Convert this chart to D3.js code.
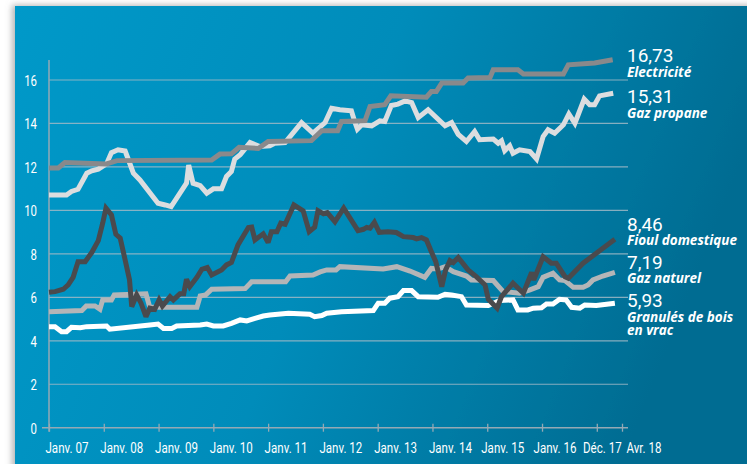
<!DOCTYPE html>
<html><head><meta charset="utf-8">
<script src="https://cdn.jsdelivr.net/npm/d3@7"></script>
<style>html,body{margin:0;padding:0;background:#fff;}svg{display:block;}</style>
</head><body>
<svg id="c" width="747" height="464"></svg>
<script>
// ---------- DATA ----------
const tickLabels = ["Janv. 07","Janv. 08","Janv. 09","Janv. 10","Janv. 11","Janv. 12","Janv. 13","Janv. 14","Janv. 15","Janv. 16","Déc. 17","Avr. 18"];
const tickPos = [0,1,2,3,4,5,6,7,8,9,10,10.46];
const yTicks = [0,2,4,6,8,10,12,14,16];

const seriesNames = ["Granulés de bois en vrac","Gaz naturel","Gaz propane","Electricité","Fioul domestique"];
const seriesLast = ["5,93","7,19","15,31","16,73","8,46"];

const elecT = [0,0.17,0.29,1.05,1.24,2.97,3.12,3.33,3.47,3.82,4.0,4.79,4.98,5.27,5.34,5.77,5.86,6.13,6.24,6.89,6.98,7.07,7.17,7.56,7.65,8.05,8.11,8.56,8.66,9.39,9.48,9.96,10.29];
const elecV = [11.95,11.95,12.2,12.14,12.29,12.32,12.59,12.6,12.9,12.85,13.17,13.21,13.67,13.67,14.09,14.13,14.78,14.86,15.27,15.21,15.47,15.47,15.86,15.86,16.09,16.11,16.47,16.47,16.28,16.28,16.7,16.78,16.93];

const propT = [0,0.32,0.41,0.53,0.69,0.78,0.9,1.05,1.14,1.26,1.39,1.45,1.54,1.66,1.99,2.12,2.23,2.51,2.55,2.63,2.76,2.88,3.0,3.15,3.24,3.33,3.39,3.49,3.55,3.67,3.85,4.03,4.12,4.31,4.61,4.82,5.04,5.16,5.31,5.52,5.58,5.63,5.71,5.89,6.04,6.13,6.25,6.37,6.5,6.62,6.74,6.92,7.23,7.35,7.47,7.62,7.77,7.86,8.11,8.2,8.26,8.32,8.41,8.47,8.59,8.78,8.9,9.02,9.11,9.23,9.39,9.49,9.6,9.66,9.77,9.87,9.96,10.05,10.3];
const propV = [10.71,10.71,10.87,10.97,11.71,11.82,11.9,12.14,12.66,12.79,12.73,12.33,11.71,11.4,10.33,10.25,10.17,11.25,12.09,11.25,11.14,10.79,10.99,10.99,11.56,11.79,12.36,12.56,12.75,13.12,12.94,12.97,13.09,13.12,14.04,13.55,14.04,14.7,14.63,14.58,14.09,13.74,13.94,13.89,14.12,14.09,14.83,14.89,15.04,14.96,14.27,14.63,13.89,14.04,13.5,13.17,13.63,13.25,13.28,13.09,13.2,12.75,12.97,12.63,12.79,12.71,12.37,13.4,13.71,13.55,13.94,14.44,14.01,14.4,15.12,14.86,14.86,15.27,15.39];

const fioulT = [0,0.11,0.26,0.35,0.44,0.53,0.66,0.78,0.9,0.98,1.04,1.14,1.22,1.3,1.39,1.47,1.51,1.6,1.68,1.77,1.84,1.93,2.01,2.07,2.21,2.27,2.39,2.46,2.51,2.57,2.7,2.79,2.89,2.97,3.15,3.24,3.33,3.45,3.64,3.7,3.76,3.91,4.0,4.06,4.16,4.23,4.31,4.47,4.64,4.75,4.85,4.91,5.01,5.08,5.22,5.38,5.64,5.74,5.8,5.86,5.94,6.03,6.19,6.34,6.47,6.65,6.71,6.8,6.89,6.98,7.06,7.17,7.24,7.32,7.38,7.47,7.65,7.8,7.96,8.02,8.18,8.26,8.47,8.66,8.81,8.85,9.02,9.17,9.26,9.42,9.48,9.75,9.99,10.33];
const fioulV = [6.23,6.26,6.37,6.57,6.92,7.64,7.64,8.06,8.61,9.41,10.1,9.79,8.9,8.72,7.72,6.8,5.57,6.11,5.73,5.11,5.5,5.45,5.88,5.6,6.03,5.88,6.16,6.16,6.83,6.49,6.92,7.29,7.37,7.03,7.26,7.49,7.6,8.41,9.21,9.23,8.64,8.92,8.52,9.02,9.02,9.41,9.36,10.25,9.98,9.02,9.23,9.99,9.84,9.9,9.48,10.1,9.07,9.13,9.22,9.18,9.45,8.99,9.02,8.98,8.79,8.75,8.69,8.75,8.64,8.1,7.64,6.49,7.26,7.69,7.6,7.83,7.26,6.95,6.57,5.91,5.5,6.03,6.65,6.19,7.14,6.8,7.87,7.57,7.57,6.95,6.88,7.57,8.03,8.67];

const gazT = [0,0.6,0.68,0.84,0.93,0.98,1.14,1.19,1.77,1.84,2.7,2.76,2.86,2.97,3.58,3.7,4.32,4.4,4.82,4.95,5.07,5.24,5.31,6.1,6.35,6.59,6.86,6.98,7.1,7.23,7.38,7.62,7.71,8.11,8.29,8.59,8.78,8.93,9.02,9.2,9.32,9.42,9.57,9.75,9.84,9.93,10.11,10.33];
const gazV = [5.34,5.39,5.6,5.6,5.45,5.88,5.88,6.11,6.16,5.54,5.54,6.06,6.11,6.37,6.4,6.72,6.72,6.98,7.03,7.17,7.26,7.26,7.41,7.3,7.41,7.21,6.92,7.33,7.3,7.41,7.18,6.98,6.8,6.77,6.26,6.19,6.34,6.49,6.92,7.11,6.8,6.77,6.46,6.46,6.57,6.8,6.98,7.15];

const boisT = [0,0.11,0.23,0.32,0.41,0.57,0.69,1.05,1.11,1.84,1.99,2.09,2.24,2.33,2.76,2.88,3.0,3.18,3.33,3.49,3.61,3.76,3.91,4.03,4.37,4.76,4.85,4.98,5.07,5.34,5.92,6.01,6.13,6.22,6.37,6.47,6.62,6.74,7.1,7.23,7.35,7.53,7.62,8.02,8.23,8.47,8.56,8.74,8.84,8.99,9.08,9.2,9.32,9.44,9.54,9.69,9.78,9.99,10.33];
const boisV = [4.65,4.65,4.42,4.42,4.62,4.6,4.65,4.68,4.53,4.73,4.77,4.57,4.57,4.68,4.73,4.77,4.68,4.68,4.8,4.96,4.91,5.03,5.14,5.19,5.27,5.22,5.11,5.16,5.27,5.34,5.39,5.73,5.73,5.96,6.03,6.31,6.31,6.03,6.0,6.14,6.11,6.03,5.65,5.62,5.85,5.88,5.42,5.42,5.5,5.52,5.69,5.69,5.91,5.88,5.54,5.5,5.65,5.62,5.73];

// ---------- STYLE / LAYOUT ----------
const W = 747, H = 464;
const svg = d3.select("#c");
const defs = svg.append("defs");
const grad = defs.append("linearGradient").attr("id","bg").attr("x1","0").attr("y1","0").attr("x2","1").attr("y2","0.25");
grad.append("stop").attr("offset","0").attr("stop-color","#0099c9");
grad.append("stop").attr("offset","0.5").attr("stop-color","#008cba");
grad.append("stop").attr("offset","1").attr("stop-color","#006c92");
const f = defs.append("filter").attr("id","sh").attr("x","-0.05").attr("y","-0.05").attr("width","1.1").attr("height","1.1");
f.append("feDropShadow").attr("dx",-3).attr("dy",-1).attr("stdDeviation",3).attr("flood-color","#777").attr("flood-opacity",0.55);

svg.append("rect").attr("x",15).attr("y",6).attr("width",W-15+10).attr("height",H-6+10)
  .attr("fill","url(#bg)").attr("filter","url(#sh)");

const x = d3.scaleLinear().domain([0,10.46]).range([49,622]);
const y = d3.scaleLinear().domain([0,16]).range([427.7,80]);
const gridEnd = 628;
const gridCol = "#9db8c6";
const narrow = (sel, k) => sel.each(function(){
  const w = this.getComputedTextLength();
  d3.select(this).attr("textLength", w*k).attr("lengthAdjust","spacingAndGlyphs");
});

// gridlines
svg.append("g").selectAll("line").data(yTicks.filter(d=>d>0)).join("line")
  .attr("x1",x(0)).attr("x2",gridEnd).attr("y1",d=>y(d)).attr("y2",d=>y(d))
  .attr("stroke",gridCol).attr("stroke-width",1.2).attr("stroke-opacity",0.85);

// y axis
const yAxis = d3.axisLeft(y).tickValues(yTicks).tickSize(0).tickPadding(12).tickFormat(d3.format("d"));
const gy = svg.append("g").attr("transform",`translate(${x(0)},0)`).call(yAxis);
gy.select(".domain").remove();
gy.selectAll("text").attr("fill","#fff").attr("font-family","Roboto,sans-serif").attr("font-size",15).attr("dy","0.36em")
  .call(narrow, 0.76);
svg.append("line").attr("x1",x(0)).attr("x2",x(0)).attr("y1",y(16)-20).attr("y2",y(0)+4)
  .attr("stroke","#95a9b4").attr("stroke-width",1.5);

// x axis
const xAxis = d3.axisBottom(x).tickValues(tickPos).tickSize(8).tickFormat((d,i)=>tickLabels[i]);
const gx = svg.append("g").attr("transform",`translate(0,${y(0)-4})`).call(xAxis);
gx.select(".domain").remove();
gx.selectAll(".tick line").attr("stroke","#95a9b4").attr("stroke-width",1.3);
gx.selectAll("text").attr("fill","#fff").attr("font-family","Roboto,sans-serif").attr("font-size",15)
  .attr("y",19)
  .attr("text-anchor",(d,i)=> i===10 ? "middle" : "start")
  .attr("dx",(d,i)=> i===10 ? 5 : (i===11 ? 4 : -4 - (i>=8 ? (i-7)*2.5 : 0)))
  .attr("dy","0.71em")
  .call(narrow, 0.77);
svg.append("line").attr("x1",42).attr("x2",gridEnd).attr("y1",y(0)).attr("y2",y(0))
  .attr("stroke","#95a9b4").attr("stroke-width",1.5);

// lines
const series = [
  {t:boisT, v:boisV, c:"#ffffff"},
  {t:gazT, v:gazV, c:"#b4b5b7"},
  {t:propT, v:propV, c:"#dcdddf"},
  {t:elecT, v:elecV, c:"#89898b"},
  {t:fioulT, v:fioulV, c:"#4a4a4d"}
];
const line = d3.line().x(d=>x(d[0])).y(d=>y(d[1]));
svg.append("g").selectAll("path").data(series).join("path")
  .attr("d",s=>line(s.t.map((t,i)=>[t,s.v[i]])))
  .attr("fill","none").attr("stroke",s=>s.c).attr("stroke-width",5)
  .attr("stroke-linejoin","miter").attr("stroke-miterlimit",2.5);

// end labels
const labelLayout = [
  {i:3, vy:62, ny:[77]},
  {i:2, vy:103, ny:[118]},
  {i:4, vy:231, ny:[245]},
  {i:1, vy:269, ny:[283]},
  {i:0, vy:307, ny:[322,335]}
];
const lx = 627;
const lg = svg.append("g");
labelLayout.forEach(L=>{
  lg.append("text").attr("x",lx).attr("y",L.vy).text(seriesLast[L.i])
    .attr("fill","#fff").attr("font-family","Roboto,sans-serif").attr("font-size",19);
  const name = seriesNames[L.i];
  const parts = L.ny.length===2 ? ["Granulés de bois","en vrac"] : [name];
  parts.forEach((p,k)=>{
    lg.append("text").attr("x",lx).attr("y",L.ny[k]).text(p)
      .attr("fill","#fff").attr("font-family","'Open Sans',sans-serif").attr("font-size",13.5)
      .attr("font-weight","bold").attr("font-style","italic");
  });
});
</script>
</body></html>
